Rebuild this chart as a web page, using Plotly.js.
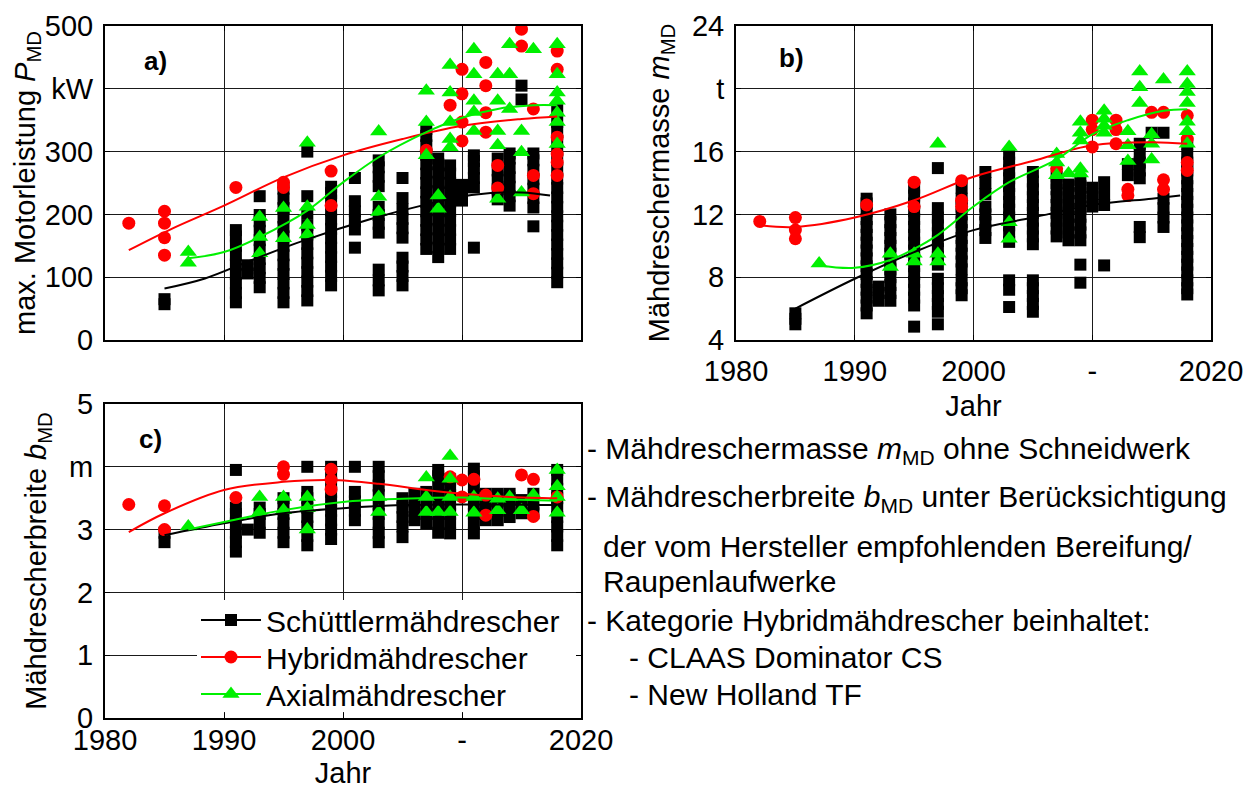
<!DOCTYPE html>
<html>
<head>
<meta charset="utf-8">
<script src="https://cdn.plot.ly/plotly-3.0.1.min.js"></script>
<style>html,body{margin:0;padding:0;background:#fff;}#chart{width:1255px;height:794px;}</style>
</head>
<body>
<div id="chart"></div>
<script>
// ---------- Panel a) max. Motorleistung P_MD (kW) ----------
const aSchYears = [1985, 1991, 1992, 1993, 1995, 1997, 1999, 2001, 2003, 2005, 2007, 2008, 2009, 2010, 2011, 2013, 2014, 2015, 2016, 2018];
const aSchVals = [
  [57, 65],
  [60, 75, 90, 105, 120, 135, 150, 165, 175],
  [106, 119],
  [84, 99, 114, 129, 144, 159, 174, 189, 199, 229],
  [60, 75, 90, 105, 120, 135, 150, 165, 180, 195, 210, 225, 241],
  [63, 78, 93, 108, 123, 138, 153, 168, 183, 202, 229, 300],
  [87, 102, 117, 132, 147, 162, 177, 192, 207, 222, 234, 244],
  [147, 176, 190, 205, 221, 258],
  [79, 95, 112, 171, 185, 199, 212, 245, 260, 275, 286],
  [87, 102, 117, 131, 163, 178, 193, 208, 226, 258],
  [145, 160, 175, 190, 205, 220, 235, 250, 265, 280, 295, 310, 325, 336],
  [132, 147, 162, 177, 192, 207, 222, 237, 252, 267, 280, 289],
  [145, 160, 175, 190, 205, 220, 235, 250, 265, 278],
  [222, 235, 247],
  [147, 243, 258, 273, 285, 294],
  [224, 240, 255, 270, 289],
  [214, 229, 244, 259, 274, 289, 297],
  [383, 405],
  [181, 211, 226, 241, 256, 271, 286, 297],
  [92, 107, 122, 137, 152, 167, 182, 197, 212, 227, 242, 257, 272, 287, 302, 317, 332, 347, 366]
];
const aHybX = [1982, 1985, 1985, 1985, 1985, 1991, 1995, 1995, 1999, 1999, 2007, 2009, 2010, 2010, 2010, 2010, 2012, 2012, 2012, 2012, 2013, 2013, 2015, 2015, 2016, 2016, 2016, 2018, 2018, 2018, 2018, 2018, 2018];
const aHybY = [186, 205, 186, 163, 135, 243, 251, 243, 269, 214, 302, 374, 431, 392, 347, 317, 442, 405, 362, 331, 278, 242, 495, 468, 368, 262, 233, 460, 431, 323, 296, 283, 262];
const aAxX = [1987, 1987, 1993, 1993, 1993, 1995, 1995, 1997, 1997, 1997, 1997, 2003, 2003, 2003, 2007, 2007, 2007, 2008, 2008, 2009, 2009, 2009, 2009, 2009, 2011, 2011, 2011, 2011, 2011, 2013, 2013, 2013, 2013, 2013, 2014, 2014, 2014, 2015, 2015, 2015, 2016, 2018, 2018, 2018, 2018, 2018, 2018, 2018];
const aAxY = [140, 123, 196, 164, 138, 210, 162, 314, 212, 183, 168, 332, 228, 204, 397, 347, 294, 230, 209, 438, 394, 347, 320, 307, 463, 423, 381, 363, 333, 423, 381, 333, 310, 225, 471, 423, 368, 333, 299, 235, 463, 471, 423, 394, 381, 362, 347, 312];
const aSchTrendX = [1985, 1988.4, 1992.3, 1996.8, 2002.4, 2006.6, 2010.8, 2015, 2017.4];
const aSchTrendY = [82, 98, 127, 159, 193, 214, 231, 235, 230];
const aHybTrendX = [1982, 1985.6, 1990, 1995, 2000, 2005, 2010, 2015, 2018];
const aHybTrendY = [143, 177, 214, 259, 294, 320, 341, 352, 356];
const aAxTrendX = [1987, 1990, 1993, 1997, 2000, 2003, 2007, 2010, 2013, 2016, 2018];
const aAxTrendY = [130, 140, 164, 206, 251, 291, 331, 354, 368, 374, 374];

// ---------- Panel b) Mähdreschermasse m_MD (t) ----------
const bSchYears = [1985, 1991, 1992, 1993, 1995, 1997, 1999, 2001, 2003, 2005, 2007, 2008, 2009, 2010, 2011, 2013, 2014, 2015, 2016, 2018];
const bSchVals = [
  [5.0, 5.35, 5.7],
  [5.7, 6.2, 6.7, 7.2, 7.7, 8.2, 8.7, 9.2, 9.7, 10.2, 10.7, 11.2, 11.7, 12.2, 12.7, 13.0],
  [6.5, 7.0, 7.4],
  [6.5, 7.0, 7.5, 8.0, 8.5, 9.0, 9.5, 10.0, 10.5, 11.0, 11.5, 12.0],
  [4.85, 6.2, 6.7, 7.2, 7.7, 8.2, 8.7, 9.2, 9.7, 10.2, 10.7, 11.2, 11.7, 12.2, 12.7, 13.2, 13.7],
  [5.0, 5.8, 6.3, 6.8, 7.3, 7.9, 8.8, 9.3, 9.8, 10.3, 10.8, 11.3, 11.8, 12.4, 14.95],
  [6.85, 7.3, 7.8, 8.5, 9.0, 9.5, 10.0, 10.5, 11.0, 11.5, 12.0, 12.5, 13.0, 13.7],
  [10.5, 11.0, 11.5, 12.0, 12.5, 13.3, 14.0, 14.7],
  [6.1, 7.2, 7.8, 10.25, 10.8, 11.3, 11.8, 12.3, 12.8, 13.3, 13.8, 14.3, 14.8, 15.3, 15.85],
  [5.8, 6.3, 6.8, 7.3, 7.8, 10.1, 10.6, 11.1, 11.6, 12.1, 12.6, 13.1, 13.6, 14.1, 14.7],
  [10.6, 11.1, 11.6, 12.1, 12.6, 13.1, 13.6, 14.0, 14.4],
  [10.35, 10.85, 11.35, 11.85, 12.35, 12.85, 13.35, 13.9],
  [7.65, 8.8, 10.35, 10.85, 11.35, 11.85, 12.35, 12.85, 13.35, 13.8, 14.2],
  [12.5, 13.1, 13.7],
  [8.75, 12.6, 13.3, 14.05],
  [14.5, 15.2],
  [10.55, 11.2, 14.3, 14.8, 15.3, 15.9, 16.5],
  [17.2],
  [11.2, 11.8, 12.4, 13.0, 17.2],
  [6.9, 7.3, 7.8, 8.3, 8.8, 9.3, 9.8, 10.3, 10.8, 11.3, 11.8, 12.3, 12.8, 13.3, 13.8, 14.3, 14.8, 15.3, 15.8, 16.5]
];
const bHybX = [1982, 1985, 1985, 1985, 1991, 1995, 1995, 1999, 1999, 1999, 2007, 2010, 2010, 2010, 2012, 2012, 2012, 2013, 2013, 2015, 2016, 2016, 2016, 2018, 2018, 2018, 2018];
const bHybY = [11.55, 11.8, 11.0, 10.45, 12.6, 14.05, 12.5, 14.15, 12.9, 12.5, 14.9, 18.0, 17.4, 16.3, 18.0, 17.4, 16.5, 13.6, 13.2, 18.5, 18.5, 14.2, 13.6, 18.3, 16.8, 15.3, 14.8];
const bAxX = [1987, 1993, 1993, 1995, 1995, 1997, 1997, 1997, 2003, 2003, 2003, 2007, 2007, 2007, 2008, 2009, 2009, 2009, 2009, 2009, 2011, 2011, 2011, 2011, 2013, 2013, 2013, 2014, 2014, 2014, 2015, 2015, 2015, 2016, 2018, 2018, 2018, 2018, 2018, 2018, 2018];
const bAxY = [8.87, 9.5, 8.65, 9.5, 9.0, 16.5, 9.5, 9.0, 16.3, 11.5, 10.45, 15.85, 15.3, 14.5, 14.6, 17.9, 17.2, 16.7, 14.9, 14.6, 18.6, 18.1, 17.65, 17.2, 17.3, 16.4, 15.4, 21.1, 20.1, 19.1, 17.1, 16.5, 15.5, 20.6, 21.1, 20.3, 19.8, 19.1, 17.9, 17.3, 16.5];
const bSchTrendX = [1985, 1990, 1995, 2000, 2005, 2010, 2015, 2017.4];
const bSchTrendY = [6.0, 7.9, 9.6, 11.0, 11.8, 12.6, 13.0, 13.2];
const bHybTrendX = [1982, 1985, 1990, 1995, 2000, 2005, 2010, 2015, 2018];
const bHybTrendY = [11.3, 11.2, 11.8, 12.9, 14.4, 15.4, 16.4, 16.6, 16.5];
const bAxTrendX = [1987, 1990, 1993, 1995, 1997, 2000, 2003, 2007, 2010, 2013, 2016, 2018];
const bAxTrendY = [8.75, 8.6, 9.1, 9.8, 10.7, 12.5, 14.05, 15.5, 17.1, 18.0, 18.6, 18.7];

// ---------- Panel c) Mähdrescherbreite b_MD (m) ----------
const cSchYears = [1985, 1991, 1992, 1993, 1995, 1997, 1999, 2001, 2003, 2005, 2006, 2007, 2008, 2009, 2011, 2012, 2013, 2014, 2015, 2016, 2018];
const cSchVals = [
  [2.8, 2.95],
  [2.65, 2.8, 2.95, 3.1, 3.25, 3.35, 3.95],
  [3.0],
  [2.95, 3.1, 3.25, 3.35],
  [2.8, 2.95, 3.1, 3.25, 3.4, 3.5],
  [2.75, 2.9, 3.05, 3.2, 3.35, 3.5, 3.6, 4.0],
  [2.85, 3.0, 3.15, 3.3, 3.45, 3.6, 3.75, 3.9, 4.0],
  [3.15, 3.3, 3.45, 3.6, 4.0],
  [2.8, 2.95, 3.1, 3.25, 3.4, 3.55, 3.7, 3.85, 4.0],
  [2.88, 3.05, 3.2, 3.35, 3.5],
  [3.15, 3.3, 3.45, 3.57],
  [3.1, 3.25, 3.4, 3.6],
  [2.95, 3.1, 3.25, 3.4, 3.55, 3.7, 3.85, 3.95],
  [2.94, 3.1, 3.25, 3.4, 3.55, 3.7, 3.8],
  [2.94, 3.1, 3.25, 3.4, 3.55, 3.7, 3.85, 3.97],
  [3.15, 3.3, 3.45, 3.57],
  [3.15, 3.3, 3.45, 3.57],
  [3.2, 3.35, 3.5, 3.57],
  [3.26, 3.4, 3.47],
  [3.26, 3.4, 3.57],
  [2.75, 2.9, 3.05, 3.2, 3.35, 3.5, 3.65, 3.8, 3.95]
];
const cHybX = [1982, 1985, 1985, 1991, 1995, 1995, 1999, 1999, 1999, 2009, 2010, 2010, 2011, 2012, 2012, 2015, 2016, 2016, 2018];
const cHybY = [3.40, 3.38, 3.0, 3.51, 4.0, 3.88, 3.96, 3.79, 3.64, 3.84, 3.79, 3.52, 3.8, 3.55, 3.23, 3.87, 3.8, 3.21, 3.52];
const cAxX = [1987, 1993, 1993, 1995, 1995, 1997, 1997, 1997, 2003, 2003, 2007, 2007, 2007, 2008, 2009, 2009, 2009, 2009, 2011, 2011, 2013, 2013, 2014, 2015, 2016, 2018, 2018, 2018, 2018];
const cAxY = [3.05, 3.52, 3.28, 3.52, 3.31, 3.52, 3.34, 3.0, 3.52, 3.28, 3.83, 3.52, 3.28, 3.28, 4.17, 3.81, 3.52, 3.28, 3.52, 3.27, 3.49, 3.31, 3.52, 3.31, 3.55, 3.95, 3.69, 3.52, 3.27];
const cSchTrendX = [1985, 1990, 1995, 2000, 2005, 2010, 2014, 2018];
const cSchTrendY = [2.91, 3.1, 3.26, 3.34, 3.39, 3.4, 3.4, 3.39];
const cHybTrendX = [1982, 1985, 1990, 1995, 1999, 2003, 2007, 2010, 2014, 2018];
const cHybTrendY = [2.96, 3.26, 3.63, 3.76, 3.79, 3.73, 3.63, 3.57, 3.52, 3.5];
const cAxTrendX = [1987, 1990, 1995, 2000, 2005, 2010, 2014, 2018];
const cAxTrendY = [3.0, 3.12, 3.31, 3.44, 3.49, 3.51, 3.48, 3.46];

// ---------- Axis tick labels ----------
const xTickVals = [1980, 1990, 2000, 2010, 2020];
const xTickText = ['1980', '1990', '2000', '-', '2020'];
const aTickVals = [0, 100, 200, 300, 400, 500];
const aTickText = ['0', '100', '200', '300', 'kW', '500'];
const bTickVals = [4, 8, 12, 16, 20, 24];
const bTickText = ['4', '8', '12', '16', 't', '24'];
const cTickVals = [0, 1, 2, 3, 4, 5];
const cTickText = ['0', '1', '2', '3', 'm', '5'];
const seriesNames = ['Schüttlermähdrescher', 'Hybridmähdrescher', 'Axialmähdrescher'];

// ---------- build ----------
const W = 1255, H = 794;
const FONT = 'Liberation Sans, Arial, sans-serif';
const FS = 29;
const BLACK = '#000000', RED = '#ff0000', GREEN = '#00f000';
const px = v => v / W;
const py = v => 1 - v / H;

function flatten(years, vals) {
  const x = [], y = [];
  years.forEach((yr, i) => vals[i].forEach(v => { x.push(yr); y.push(v); }));
  return {x, y};
}

function panelTraces(xa, ya, sch, hybX, hybY, axX, axY, tr) {
  return [
    {x: sch.x, y: sch.y, xaxis: xa, yaxis: ya, type: 'scatter', mode: 'markers', showlegend: false,
     marker: {symbol: 'square', size: 12, color: BLACK}},
    {x: hybX, y: hybY, xaxis: xa, yaxis: ya, type: 'scatter', mode: 'markers', showlegend: false,
     marker: {symbol: 'circle', size: 13, color: RED}},
    {x: axX, y: axY, xaxis: xa, yaxis: ya, type: 'scatter', mode: 'markers', showlegend: false,
     marker: {symbol: 'triangle-up', size: 15, color: GREEN}},
    {x: tr[0], y: tr[1], xaxis: xa, yaxis: ya, type: 'scatter', mode: 'lines', showlegend: false,
     line: {color: BLACK, width: 2, shape: 'spline'}},
    {x: tr[2], y: tr[3], xaxis: xa, yaxis: ya, type: 'scatter', mode: 'lines', showlegend: false,
     line: {color: RED, width: 2, shape: 'spline'}},
    {x: tr[4], y: tr[5], xaxis: xa, yaxis: ya, type: 'scatter', mode: 'lines', showlegend: false,
     line: {color: GREEN, width: 2, shape: 'spline'}}
  ];
}

const data = [].concat(
  panelTraces('x', 'y', flatten(aSchYears, aSchVals), aHybX, aHybY, aAxX, aAxY,
    [aSchTrendX, aSchTrendY, aHybTrendX, aHybTrendY, aAxTrendX, aAxTrendY]),
  panelTraces('x2', 'y2', flatten(bSchYears, bSchVals), bHybX, bHybY, bAxX, bAxY,
    [bSchTrendX, bSchTrendY, bHybTrendX, bHybTrendY, bAxTrendX, bAxTrendY]),
  panelTraces('x3', 'y3', flatten(cSchYears, cSchVals), cHybX, cHybY, cAxX, cAxY,
    [cSchTrendX, cSchTrendY, cHybTrendX, cHybTrendY, cAxTrendX, cAxTrendY])
);
// legend entries (no data of their own), one legend box per row
const legendIds = ['legend', 'legend2', 'legend3'];
[[BLACK, 'square', 12], [RED, 'circle', 13], [GREEN, 'triangle-up', 15]].forEach((s, i) => {
  data.push({x: [null], y: [null], xaxis: 'x3', yaxis: 'y3', type: 'scatter', mode: 'lines+markers',
    name: seriesNames[i], showlegend: true, legend: legendIds[i],
    line: {color: s[0], width: 2}, marker: {symbol: s[1], size: s[2], color: s[0]}});
});

function xAxis(d0, d1, anchor, labels, title, standoff, titleStandoff) {
  const ax = {domain: [px(d0), px(d1)], anchor: anchor, range: [1980, 2020],
    tickmode: 'array', tickvals: xTickVals, ticktext: xTickText, showticklabels: labels,
    ticks: 'inside', ticklen: 5, tickcolor: BLACK, tickwidth: 1,
    showgrid: true, gridcolor: '#1a1a1a', gridwidth: 1, zeroline: false,
    showline: true, mirror: 'ticks', linecolor: BLACK, linewidth: 2,
    tickfont: {family: FONT, size: FS, color: BLACK}, ticklabelstandoff: labels ? standoff : 0, fixedrange: true};
  if (title) ax.title = {text: title, font: {family: FONT, size: FS, color: BLACK}, standoff: titleStandoff};
  return ax;
}
function yAxis(top, bottom, anchor, range, vals, text, title, standoff) {
  return {domain: [py(bottom), py(top)], anchor: anchor, range: range,
    tickmode: 'array', tickvals: vals, ticktext: text,
    ticks: 'inside', ticklen: 5, tickcolor: BLACK, tickwidth: 1,
    showgrid: true, gridcolor: '#1a1a1a', gridwidth: 1, zeroline: false,
    showline: true, mirror: 'ticks', linecolor: BLACK, linewidth: 2,
    tickfont: {family: FONT, size: FS, color: BLACK}, ticklabelstandoff: 4, fixedrange: true,
    title: {text: title, font: {family: FONT, size: FS, color: BLACK}, standoff: standoff}};
}

const annFont = {family: FONT, size: 30, color: BLACK};
const notes = [
  ['- Mähdreschermasse <i>m</i><sub>MD</sub> ohne Schneidwerk', 585, 450],
  ['- Mähdrescherbreite <i>b</i><sub>MD</sub> unter Berücksichtigung', 585, 498],
  ['der vom Hersteller empfohlenden Bereifung/', 601, 546],
  ['Raupenlaufwerke', 601, 581],
  ['- Kategorie Hybridmähdrescher beinhaltet:', 585, 620],
  ['- CLAAS Dominator CS', 627, 657],
  ['- New Holland TF', 627, 694]
];
const annotations = notes.map(n => ({text: n[0], xref: 'paper', yref: 'paper', x: px(n[1]), y: py(n[2]),
  xanchor: 'left', yanchor: 'middle', showarrow: false, font: annFont}));
[['a)', 155, 61], ['b)', 791, 58], ['c)', 150, 439]].forEach(p => annotations.push({
  text: '<b>' + p[0] + '</b>', xref: 'paper', yref: 'paper', x: px(p[1]), y: py(p[2]),
  xanchor: 'center', yanchor: 'middle', showarrow: false, font: {family: FONT, size: 26, color: BLACK}}));

function legendBox(rowY) {
  return {x: px(196), y: py(rowY), xanchor: 'left', yanchor: 'middle', bgcolor: 'rgba(0,0,0,0)', borderwidth: 0,
    font: {family: FONT, size: 30, color: BLACK}, itemwidth: 60};
}

// white background behind the legend rows (covers the grid there, as in the original)
const legendBg = {type: 'rect', xref: 'paper', yref: 'paper', layer: 'above',
  x0: px(197), x1: px(576), y0: py(712), y1: py(600),
  fillcolor: '#ffffff', line: {width: 0}};

const layout = {
  width: W, height: H, margin: {l: 0, r: 0, t: 0, b: 0},
  paper_bgcolor: '#ffffff', plot_bgcolor: '#ffffff',
  font: {family: FONT, size: FS, color: BLACK},
  xaxis: xAxis(105, 581, 'y', false, null, 0, 0),
  yaxis: yAxis(26, 340, 'x', [0, 500], aTickVals, aTickText, 'max. Motorleistung <i>P</i><sub>MD</sub>', 0),
  xaxis2: xAxis(736, 1211, 'y2', true, 'Jahr', 4, 10),
  yaxis2: yAxis(26, 340, 'x2', [4, 24], bTickVals, bTickText, 'Mähdreschermasse <i>m</i><sub>MD</sub>', 14),
  xaxis3: xAxis(105, 581, 'y3', true, 'Jahr', -5, 8),
  yaxis3: yAxis(404, 718, 'x3', [0, 5], cTickVals, cTickText, 'Mähdrescherbreite <i>b</i><sub>MD</sub>', 14),
  showlegend: true,
  legend: legendBox(620),
  legend2: legendBox(657),
  legend3: legendBox(694),
  shapes: [legendBg],
  annotations: annotations,
  hovermode: false
};

Plotly.newPlot('chart', data, layout, {staticPlot: true, displayModeBar: false});
</script>
</body>
</html>
